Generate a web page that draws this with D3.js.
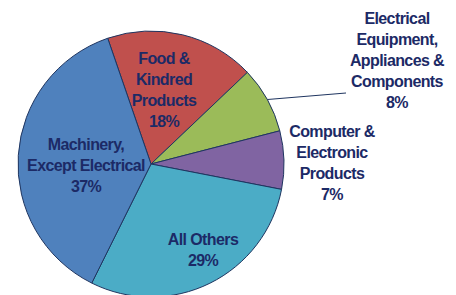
<!DOCTYPE html>
<html>
<head>
<meta charset="utf-8">
<script src="https://cdn.jsdelivr.net/npm/d3@7"></script>
<style>
  body { margin: 0; background: #fff; }
  text { font-family: "Liberation Sans", sans-serif; font-size: 16px; font-weight: bold; fill: #1c2a66; letter-spacing: -0.6px; }
</style>
</head>
<body>
<div id="chart"></div>
<script>
// slices, clockwise from the top
var categories = ["Food & Kindred Products", "Electrical Equipment, Appliances & Components",
  "Computer & Electronic Products", "All Others", "Machinery, Except Electrical"];
var shares = [18, 8, 7, 29, 37];
var labelLines = [
  ["Food &", "Kindred", "Products", "18%"],
  ["Electrical", "Equipment,", "Appliances &", "Components", "8%"],
  ["Computer &", "Electronic", "Products", "7%"],
  ["All Others", "29%"],
  ["Machinery,", "Except Electrical", "37%"]
];
var colors = ["#c0504d", "#9bbb59", "#8064a2", "#4bacc6", "#4f81bd"];

var width = 456, height = 295;
var cx = 151, cy = 164, radius = 133;

var svg = d3.select("#chart").append("svg")
  .attr("width", width)
  .attr("height", height);

var g = svg.append("g").attr("transform", `translate(${cx}, ${cy})`);

var start = -19 * Math.PI / 180;
var pie = d3.pie().sort(null).startAngle(start).endAngle(start + 2 * Math.PI);
var arcs = pie(shares);
var arc = d3.arc().innerRadius(0).outerRadius(radius);

g.selectAll("path")
  .data(arcs)
  .enter()
  .append("path")
  .attr("d", arc)
  .attr("fill", (d, i) => colors[i])
  .attr("stroke", "#1f3560")
  .attr("stroke-width", 1);

// label anchor points (centre x, first baseline y) relative to page
var labelPos = [[164, 64], [397, 24], [332, 137], [203, 245], [86, 150]];
var lineGap = 21;

svg.selectAll("text.lbl")
  .data(labelLines)
  .enter()
  .append("text")
  .attr("class", "lbl")
  .attr("text-anchor", "middle")
  .each(function(lines, i) {
    var t = d3.select(this);
    lines.forEach(function(s, k) {
      t.append("tspan")
        .attr("x", labelPos[i][0])
        .attr("y", labelPos[i][1] + k * lineGap)
        .text(s);
    });
  });

// leader line for the electrical slice
var a = 61 * Math.PI / 180;
var p0 = [cx + radius * Math.sin(a), cy - radius * Math.cos(a)];
svg.append("polyline")
  .attr("points", [p0, [346, 93]].map(p => p.join(",")).join(" "))
  .attr("fill", "none")
  .attr("stroke", "#1f3560")
  .attr("stroke-width", 1);
</script>
</body>
</html>
